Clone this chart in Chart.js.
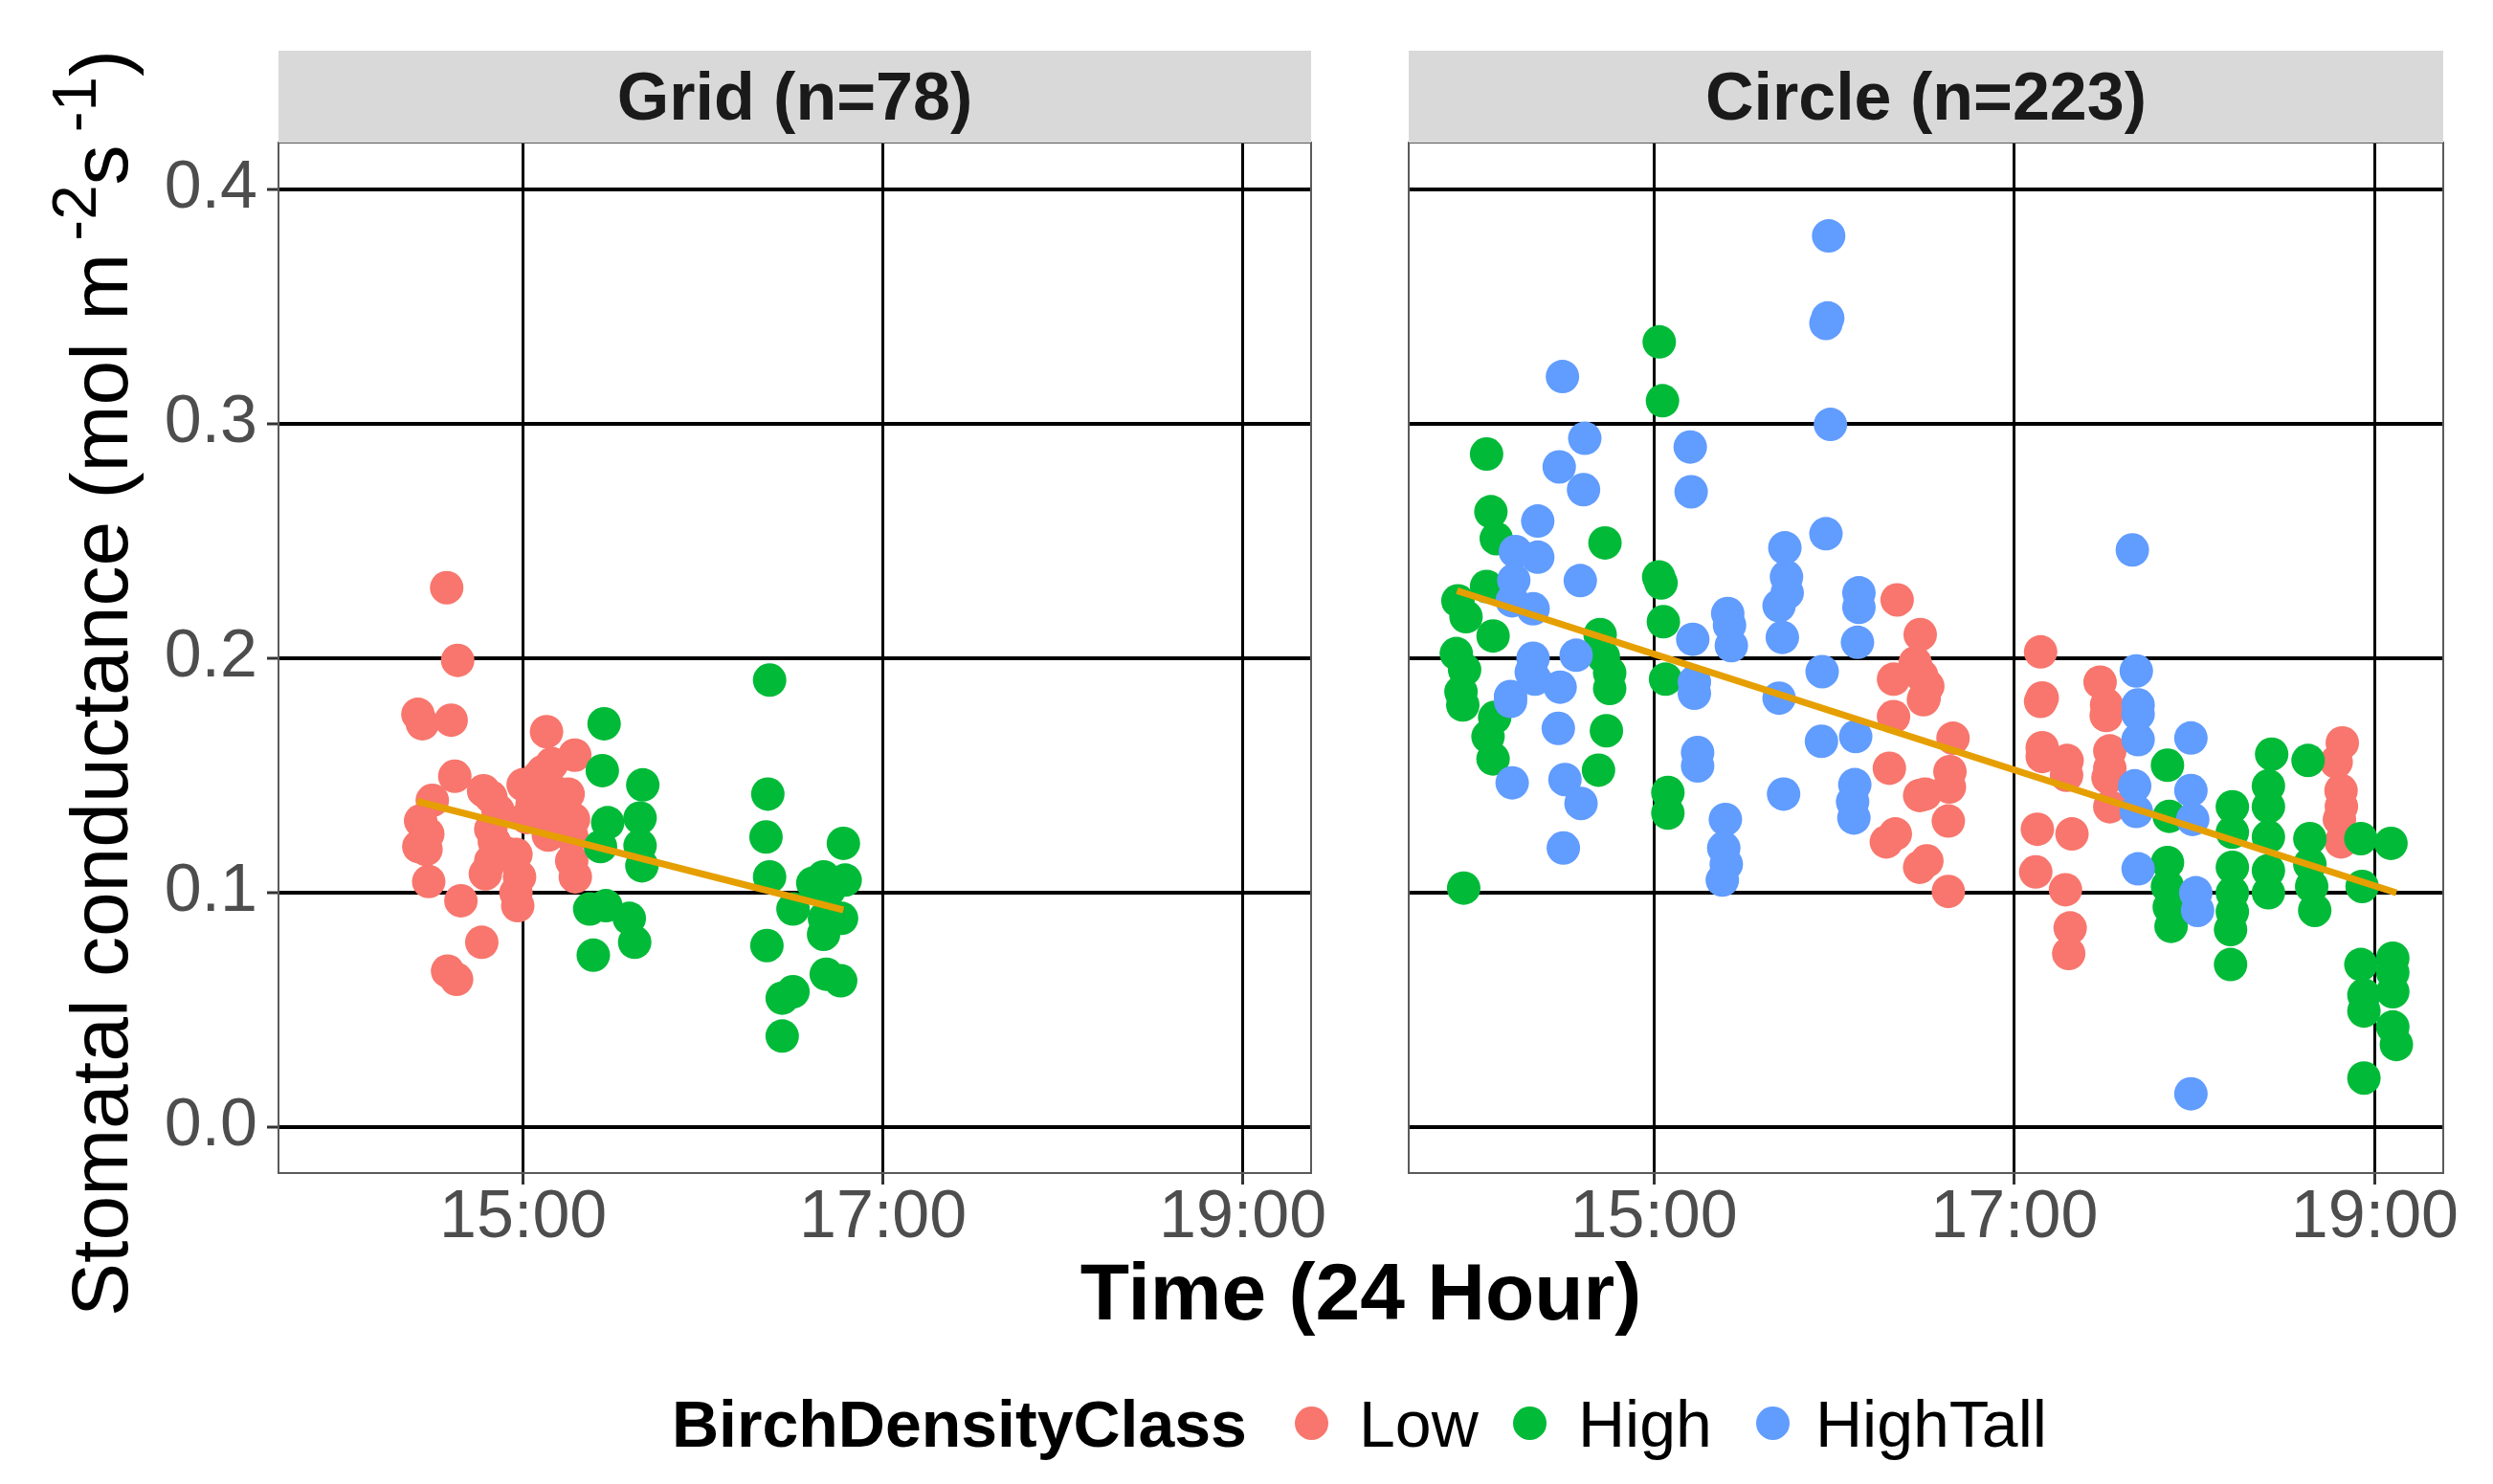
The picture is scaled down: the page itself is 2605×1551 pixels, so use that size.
<!DOCTYPE html>
<html>
<head>
<meta charset="utf-8">
<title>Stomatal conductance by time</title>
<script src="https://cdn.jsdelivr.net/npm/chart.js@4.4.1/dist/chart.umd.min.js"></script>
<style>
  html, body { margin: 0; padding: 0; background: #fff; }
  body {
    width: 2605px; height: 1551px; position: relative; overflow: hidden;
    font-family: "Liberation Sans", Arial, sans-serif;
  }
  .panel { position: absolute; top: 89px; }
  .strip {
    position: absolute; top: 53px; height: 96px; line-height: 96px;
    background: #d9d9d9; color: #1a1a1a; text-align: center;
    font-size: 70px; font-weight: bold; z-index: 2;
  }
  #yTitle {
    position: absolute; left: -596px; top: 672px; width: 1400px; height: 84px;
    line-height: 84px; font-size: 84px; text-align: center; color: #000;
    transform: rotate(-90deg); white-space: nowrap;
  }
  #yTitle .sup { font-size: 0.78em; position: relative; top: -0.5em; }
  #xTitle {
    position: absolute; left: 922px; top: 1308px; width: 1000px; height: 84px;
    line-height: 84px; font-size: 84px; font-weight: bold; text-align: center; color: #000;
  }
  .legText {
    position: absolute; top: 1453px; height: 70px; line-height: 70px;
    font-size: 68px; color: #000; white-space: nowrap;
  }
  .legDot { position: absolute; width: 35px; height: 35px; border-radius: 50%; top: 1470px; }
</style>
</head>
<body>

<div class="panel" style="left:0px"><canvas id="gridChart" width="1430" height="1257"></canvas></div>
<div class="panel" style="left:1432px"><canvas id="circleChart" width="1173" height="1257"></canvas></div>

<div class="strip" style="left:291px; width:1079px">Grid (n=78)</div>
<div class="strip" style="left:1472px; width:1081px">Circle (n=223)</div>

<div id="yTitle">Stomatal conductance (mol m<span class="sup">&#8201;-2</span>s<span class="sup">&#8201;-1</span>)</div>
<div id="xTitle">Time (24 Hour)</div>

<div class="legText" style="left:702px; font-weight:bold">BirchDensityClass</div>
<div class="legDot" style="left:1353px; background:#F8766D"></div>
<div class="legText" style="left:1420px">Low</div>
<div class="legDot" style="left:1581px; background:#00BA38"></div>
<div class="legText" style="left:1649px">High</div>
<div class="legDot" style="left:1835px; background:#619CFF"></div>
<div class="legText" style="left:1897px">HighTall</div>

<script>
// ---- axes ----
const xTicks = [15, 17, 19]
const xTickLabels = ['15:00', '17:00', '19:00']
const yTicks = [0, 0.1, 0.2, 0.3, 0.4]
const xRange = [13.64, 19.38]
const yRange = [-0.0196, 0.4198]

// ---- Grid (n=78) ----
const gridLowTime = [14.575, 14.636, 14.415, 14.44, 14.60, 15.13, 15.287, 14.62, 14.495, 14.78,
  14.82, 14.43, 14.42, 14.46, 14.82, 14.84, 15.0, 15.11, 15.14, 15.25,
  15.05, 15.18, 15.14, 15.28, 15.27, 14.96, 14.82, 14.79, 14.98, 15.27,
  15.29, 14.475, 14.654, 14.96, 14.97, 14.77, 14.58, 14.63, 15.08, 15.2,
  15.02, 14.9, 15.22, 14.47, 14.86, 15.16]
const gridLowGs = [0.230, 0.199, 0.176, 0.172, 0.1735, 0.1686, 0.1586, 0.1496, 0.1393, 0.1434,
  0.1408, 0.1306, 0.1196, 0.1184, 0.127, 0.1216, 0.146, 0.1516, 0.146, 0.142,
  0.138, 0.135, 0.1245, 0.1312, 0.124, 0.1163, 0.1135, 0.108, 0.1067, 0.1135,
  0.1067, 0.1047, 0.0965, 0.0999, 0.0944, 0.0788, 0.0665, 0.063, 0.149, 0.140,
  0.132, 0.117, 0.128, 0.125, 0.135, 0.155]

const gridHighTime = [16.37, 15.45, 15.44, 15.665, 15.47, 15.65, 15.43, 15.65, 15.66, 16.36,
  16.35, 16.37, 16.78, 16.67, 16.79, 16.50, 16.675, 16.77, 16.67, 16.355,
  15.37, 15.46, 15.59, 15.62, 15.39, 16.685, 16.765, 16.50, 16.44, 16.44,
  16.70, 16.61]
const gridHighGs = [0.1906, 0.172, 0.152, 0.1459, 0.1298, 0.1318, 0.1196, 0.12, 0.1114, 0.142,
  0.1237, 0.1067, 0.121, 0.1067, 0.1053, 0.093, 0.089, 0.089, 0.0822, 0.0774,
  0.093, 0.0944, 0.089, 0.0788, 0.0733, 0.0652, 0.0624, 0.0577, 0.055, 0.0388,
  0.101, 0.104]

// fitted lm line, read at its two ends
const gridFitTime = [14.41, 16.78]
const gridFitGs = [0.1389, 0.0926]

// ---- Circle (n=223) ----
const circleLowTime = [16.35, 16.478, 16.47, 16.5, 16.33, 16.33, 16.307, 16.475, 16.34, 16.29,
  16.475, 16.487, 16.496, 16.66, 16.643, 16.505, 16.64, 16.634, 16.515, 16.634,
  17.146, 17.155, 17.146, 17.155, 17.155, 17.293, 17.29, 17.128, 17.32, 17.119,
  17.284, 17.31, 17.302, 17.476, 17.512, 17.51, 17.53, 17.53, 17.52, 17.53,
  18.82, 18.786, 18.813, 18.815, 18.804, 18.813, 16.45, 16.52]
const circleLowGs = [0.2248, 0.210, 0.1937, 0.183, 0.191, 0.175, 0.153, 0.1414, 0.125, 0.1216,
  0.1108, 0.1924, 0.1822, 0.1658, 0.1516, 0.142, 0.145, 0.1305, 0.1135, 0.1005,
  0.2026, 0.183, 0.1815, 0.1618, 0.158, 0.1563, 0.150, 0.127, 0.125, 0.1088,
  0.1012, 0.0849, 0.074, 0.1897, 0.180, 0.1755, 0.1604, 0.153, 0.149, 0.1366,
  0.1638, 0.1557, 0.1435, 0.1367, 0.1312, 0.1216, 0.198, 0.188]

const circleHighTime = [15.03, 15.048, 14.072, 14.096, 14.126, 14.729, 15.027, 15.04, 14.072, 13.913,
  13.958, 14.108, 15.053, 13.904, 13.95, 14.702, 14.72, 14.755, 14.755, 15.065,
  13.93, 13.94, 14.117, 14.08, 14.108, 14.737, 14.693, 15.078, 15.078, 13.945,
  17.85, 17.86, 17.85, 17.85, 17.86, 17.87, 18.21, 18.21, 18.21, 18.21,
  18.21, 18.20, 18.20, 18.428, 18.41, 18.41, 18.41, 18.41, 18.41, 18.63,
  18.64, 18.64, 18.65, 18.667, 18.923, 19.09, 18.93, 18.923, 18.94, 18.94,
  19.1, 19.1, 19.1, 19.1, 19.12, 18.94]
const circleHighGs = [0.3348, 0.3097, 0.287, 0.2624, 0.2509, 0.2491, 0.2346, 0.232, 0.2305, 0.2244,
  0.2176, 0.2094, 0.2155, 0.2019, 0.195, 0.210, 0.2006, 0.1937, 0.187, 0.191,
  0.1856, 0.180, 0.1747, 0.1665, 0.157, 0.169, 0.1522, 0.1427, 0.1339, 0.1019,
  0.1543, 0.1325, 0.1128, 0.1026, 0.0938, 0.0856, 0.1366, 0.1257, 0.1108, 0.0999,
  0.0918, 0.0842, 0.0693, 0.159, 0.1455, 0.1366, 0.1237, 0.1094, 0.0999, 0.1563,
  0.123, 0.1121, 0.1026, 0.0924, 0.123, 0.121, 0.1026, 0.0693, 0.0563, 0.0495,
  0.072, 0.0659, 0.0577, 0.0427, 0.0352, 0.0209]

const circleTallTime = [15.97, 15.955, 15.965, 14.493, 15.98, 14.617, 15.202, 14.475, 14.61, 15.207,
  14.356, 15.955, 15.727, 14.232, 14.356, 15.736, 14.592, 14.223, 15.74, 16.138,
  15.695, 16.138, 14.214, 14.33, 15.41, 15.42, 15.216, 15.43, 15.713, 16.13,
  14.33, 14.569, 15.934, 14.32, 14.48, 14.205, 15.225, 15.225, 15.695, 14.34,
  14.205, 14.47, 14.214, 14.507, 14.596, 14.498, 15.93, 16.12, 15.243, 15.243,
  15.72, 16.115, 16.103, 16.11, 15.397, 15.388, 15.402, 15.38, 17.655, 17.677,
  17.687, 17.687, 17.687, 17.98, 17.668, 17.677, 17.98, 17.99, 17.687, 18.007,
  18.017, 17.98]
const circleTallGs = [0.380, 0.3427, 0.345, 0.320, 0.2996, 0.2937, 0.290, 0.2815, 0.2718, 0.2709,
  0.2584, 0.253, 0.247, 0.2454, 0.243, 0.2346, 0.233, 0.2332, 0.2278, 0.2278,
  0.2223, 0.2216, 0.2244, 0.221, 0.219, 0.214, 0.208, 0.2053, 0.2088, 0.2067,
  0.1999, 0.2012, 0.1942, 0.194, 0.1876, 0.1836, 0.1897, 0.185, 0.1829, 0.191,
  0.1815, 0.170, 0.1468, 0.1482, 0.138, 0.119, 0.1645, 0.1665, 0.1597, 0.154,
  0.142, 0.146, 0.1387, 0.1318, 0.1312, 0.119, 0.1121, 0.1053, 0.2461, 0.1945,
  0.180, 0.1761, 0.1652, 0.1659, 0.1455, 0.1346, 0.1435, 0.1312, 0.1101, 0.0999,
  0.0924, 0.0142]

const circleFitTime = [13.908, 19.12]
const circleFitGs = [0.2287, 0.0999]

// ggplot default hues
const colors = { Low: '#F8766D', High: '#00BA38', HighTall: '#619CFF', fit: '#E69F00' }

Chart.defaults.font.family = '"Liberation Sans", Arial, sans-serif'

/**
 * Zip two arrays into {x, y} points
 */
const toPoints = (times, values) => times.map((t, i) => ({ x: t, y: values[i] }))

const pointSet = (label, times, values, color, order) => ({
  label,
  data: toPoints(times, values),
  backgroundColor: color,
  borderWidth: 0,
  pointRadius: 17.5,
  pointHoverRadius: 17.5,
  order
})

const fitSet = (times, values) => ({
  label: 'fit',
  data: toPoints(times, values),
  showLine: true,
  borderColor: colors.fit,
  borderWidth: 7,
  pointRadius: 0,
  fill: false,
  order: 0
})

// panel frame drawn over everything, like ggplot's panel.border
const panelBorder = {
  id: 'panelBorder',
  afterDraw (chart) {
    const { ctx, chartArea: a } = chart
    ctx.save()
    ctx.strokeStyle = '#5a5a5a'
    ctx.lineWidth = 2
    ctx.strokeRect(a.left, a.top, a.right - a.left, a.bottom - a.top)
    ctx.restore()
  }
}

/**
 * Build one facet panel
 * @param {string} id - canvas id
 * @param {Array} datasets - chart datasets
 * @param {boolean} showY - draw y tick labels and tick marks
 * @param {Object} padding - layout padding
 */
const makePanel = (id, datasets, showY, padding) => {
  const ctx = document.getElementById(id).getContext('2d')
  return new Chart(ctx, {
    type: 'scatter',
    data: { datasets },
    options: {
      responsive: false,
      animation: false,
      devicePixelRatio: 1,
      layout: { padding },
      plugins: { legend: { display: false }, tooltip: { enabled: false } },
      scales: {
        x: {
          type: 'linear',
          min: xRange[0],
          max: xRange[1],
          afterBuildTicks: (scale) => { scale.ticks = xTicks.map(v => ({ value: v })) },
          afterFit: (scale) => { scale.height = 110 },
          border: { display: false },
          grid: { color: '#000', lineWidth: 3, drawTicks: true, tickLength: 12, tickColor: '#333', tickWidth: 3 },
          ticks: {
            padding: -6,
            color: '#4d4d4d',
            font: { size: 70 },
            maxRotation: 0,
            callback: (v) => xTickLabels[xTicks.indexOf(v)]
          }
        },
        y: {
          type: 'linear',
          min: yRange[0],
          max: yRange[1],
          afterBuildTicks: (scale) => { scale.ticks = yTicks.map(v => ({ value: v })) },
          afterFit: (scale) => { scale.width = showY ? 291 : 0 },
          border: { display: false },
          grid: { color: '#000', lineWidth: 4, drawTicks: showY, tickLength: 12, tickColor: '#333', tickWidth: 3 },
          ticks: {
            display: showY,
            padding: 10,
            color: '#4d4d4d',
            font: { size: 70 },
            callback: (v) => v.toFixed(1)
          }
        }
      }
    },
    plugins: [panelBorder]
  })
}

makePanel('gridChart', [
  fitSet(gridFitTime, gridFitGs),
  pointSet('High', gridHighTime, gridHighGs, colors.High, 2),
  pointSet('Low', gridLowTime, gridLowGs, colors.Low, 3)
], true, { left: 0, right: 60, top: 60, bottom: 10 })

makePanel('circleChart', [
  fitSet(circleFitTime, circleFitGs),
  pointSet('HighTall', circleTallTime, circleTallGs, colors.HighTall, 1),
  pointSet('High', circleHighTime, circleHighGs, colors.High, 2),
  pointSet('Low', circleLowTime, circleLowGs, colors.Low, 3)
], false, { left: 40, right: 52, top: 60, bottom: 10 })
</script>
</body>
</html>
